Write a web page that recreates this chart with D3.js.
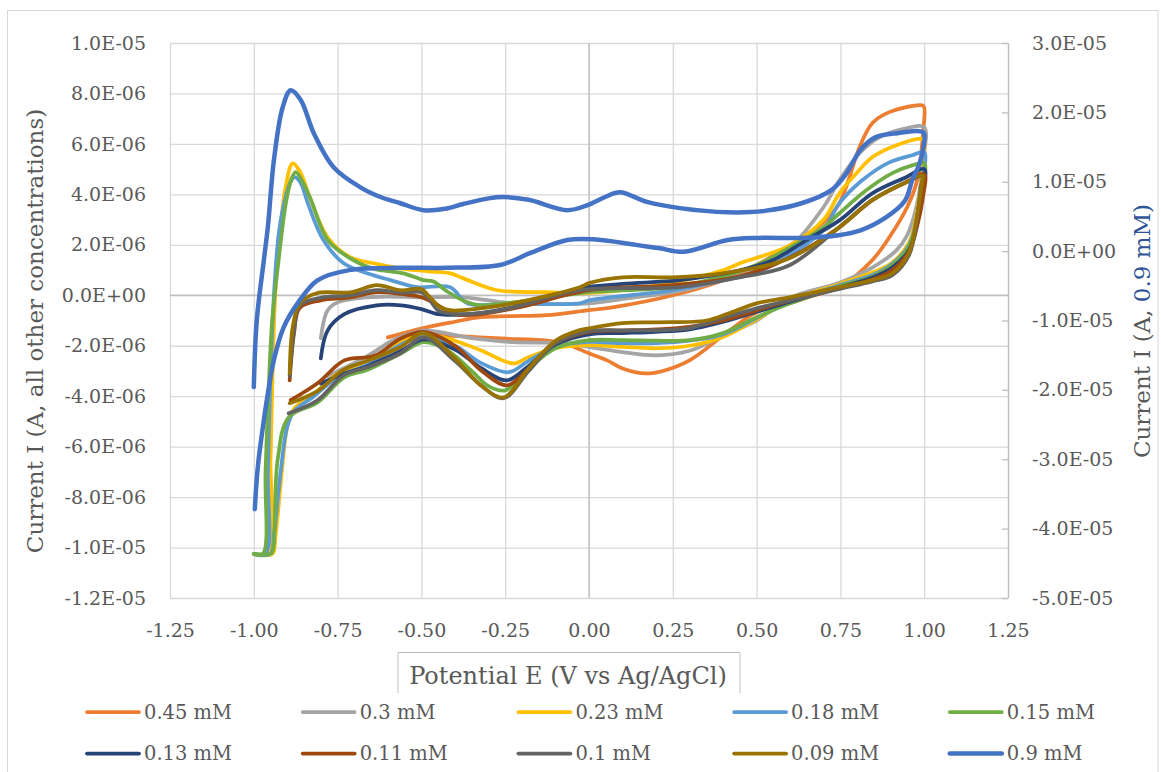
<!DOCTYPE html>
<html>
    <head>
        <style>
            body{
                margin: 0;
                background-color: white;
            }
            text{
                font-family: "DejaVu Serif", serif;
                fill: #595959;
            }
        </style>
        <script src="https://d3js.org/d3.v7.min.js"></script>
    </head>
    <body>
        <script>
            // potential E (V) and current I (uA), forward scan then reverse scan
            const e045 = [-0.60,-0.494,-0.40,-0.324,-0.20,-0.125,0.0,0.07,0.25,0.40,0.50,0.625,0.70,0.747,0.777,0.807,0.845,0.896,0.994,1.0, 0.997,0.979,0.949,0.896,0.845,0.75,0.66,0.598,0.50,0.42,0.30,0.22,0.17,0.10,0.054,0.0,-0.065,-0.125,-0.25,-0.325,-0.42,-0.50,-0.60];
            const i045 = [-1.67,-1.3,-1.05,-0.87,-0.82,-0.79,-0.59,-0.48,0.0,0.6,1.2,2.2,2.9,3.65,4.68,5.87,6.82,7.26,7.53,7.45, 6.5,4.56,3.49,2.3,1.39,0.35,-0.05,-0.32,-0.67,-1.39,-2.58,-3.0,-3.1,-2.9,-2.58,-2.3,-1.95,-1.8,-1.72,-1.67,-1.6,-1.55,-1.9];

            const e03 = [-0.80,-0.78,-0.75,-0.68,-0.60,-0.50,-0.375,-0.226,-0.10,0.0,0.125,0.25,0.40,0.50,0.60,0.70,0.747,0.807,0.866,0.946,1.0, 0.996,0.98,0.95,0.917,0.845,0.747,0.60,0.50,0.40,0.30,0.20,0.10,0.0,-0.065,-0.226,-0.35,-0.494,-0.58,-0.66,-0.78];
            const i03 = [-1.7,-0.6,-0.28,-0.1,-0.05,-0.08,-0.08,-0.32,-0.35,-0.32,-0.1,0.12,0.6,1.0,1.9,3.5,4.56,5.63,6.26,6.62,6.66, 5.3,3.7,2.4,1.78,1.1,0.5,-0.1,-1.0,-1.6,-2.2,-2.38,-2.25,-2.05,-1.9,-1.86,-1.7,-1.4,-1.75,-2.4,-3.2];

            const e023 = [-1.0,-0.957,-0.950,-0.943,-0.935,-0.920,-0.905,-0.884,-0.862,-0.830,-0.78,-0.711,-0.643,-0.5625,-0.48,-0.414,-0.375,-0.274,-0.125,-0.027,0.10,0.25,0.40,0.45,0.60,0.70,0.747,0.798,0.845,0.917,0.994,1.0, 0.995,0.98,0.955,0.905,0.845,0.747,0.60,0.50,0.40,0.30,0.20,0.10,0.0,-0.10,-0.18,-0.226,-0.32,-0.40,-0.494,-0.56,-0.66,-0.75,-0.82,-0.88,-0.90,-0.92,-0.935,-0.945,-1.0];
            const i023 = [-10.25,-10.25,-6.5,-2.5,0.3,2.7,4.3,5.23,4.9,3.77,2.3,1.5,1.27,1.07,0.95,0.87,0.67,0.2,0.12,0.08,0.2,0.5,0.99,1.27,1.98,3.0,4.04,4.84,5.47,5.95,6.2,6.1, 4.9,3.4,2.1,1.3,0.9,0.45,-0.2,-0.95,-1.65,-2.0,-2.1,-2.05,-1.98,-2.1,-2.45,-2.7,-2.2,-1.8,-1.55,-1.8,-2.6,-3.1,-3.9,-4.5,-5.2,-7.5,-9.5,-10.25,-10.25];

            const e018 = [-1.0,-0.965,-0.958,-0.950,-0.940,-0.925,-0.905,-0.890,-0.878,-0.860,-0.839,-0.792,-0.732,-0.643,-0.592,-0.512,-0.414,-0.363,-0.226,-0.027,0.0,0.25,0.40,0.50,0.60,0.70,0.747,0.815,0.896,0.964,1.0, 0.995,0.98,0.955,0.905,0.845,0.747,0.60,0.50,0.40,0.30,0.20,0.10,0.0,-0.10,-0.18,-0.24,-0.32,-0.40,-0.494,-0.56,-0.66,-0.75,-0.82,-0.88,-0.90,-0.92,-0.94,-0.95,-1.0];
            const i018 = [-10.25,-10.25,-7.0,-3.0,0.0,2.5,3.9,4.5,4.68,4.45,3.65,2.18,1.27,0.79,0.6,0.32,0.32,-0.32,-0.32,-0.32,-0.2,0.2,0.6,0.9,1.6,2.6,3.65,4.56,5.27,5.55,5.67, 4.6,3.2,2.0,1.25,0.8,0.4,-0.25,-0.9,-1.55,-1.8,-1.9,-1.9,-1.85,-2.05,-2.6,-3.05,-2.7,-2.0,-1.65,-1.95,-2.75,-3.25,-4.0,-4.6,-5.2,-7.0,-9.5,-10.25,-10.25];

            const e015 = [-1.0,-0.973,-0.965,-0.955,-0.945,-0.926,-0.905,-0.888,-0.875,-0.855,-0.830,-0.78,-0.711,-0.643,-0.554,-0.494,-0.464,-0.423,-0.363,-0.324,-0.226,-0.10,0.0,0.25,0.40,0.50,0.60,0.70,0.747,0.827,0.905,0.964,1.0, 0.995,0.98,0.955,0.905,0.845,0.747,0.60,0.50,0.40,0.30,0.20,0.10,0.0,-0.10,-0.18,-0.25,-0.30,-0.35,-0.42,-0.494,-0.56,-0.66,-0.73,-0.81,-0.896,-0.929,-0.943,-0.95,-1.0];
            const i015 = [-10.25,-10.25,-7.0,-3.5,-1.0,1.39,3.6,4.6,4.88,4.5,3.8,2.2,1.45,1.05,0.87,0.6,0.55,0.15,-0.28,-0.4,-0.28,-0.05,0.12,0.32,0.75,1.2,1.9,2.7,3.25,4.16,4.84,5.15,5.23, 4.2,3.0,1.95,1.2,0.75,0.35,-0.32,-0.87,-1.5,-1.78,-1.8,-1.78,-1.78,-2.1,-2.9,-3.77,-3.6,-3.0,-2.2,-1.86,-2.3,-2.95,-3.25,-4.25,-4.84,-6.54,-10.1,-10.25,-10.25];

            const e013 = [-0.80,-0.78,-0.73,-0.633,-0.56,-0.50,-0.45,-0.40,-0.324,-0.176,-0.027,0.10,0.271,0.45,0.55,0.65,0.747,0.845,0.946,1.0, 0.995,0.98,0.955,0.905,0.845,0.747,0.60,0.50,0.40,0.30,0.20,0.10,0.0,-0.10,-0.18,-0.245,-0.32,-0.40,-0.494,-0.56,-0.66,-0.73,-0.80];
            const i013 = [-2.5,-1.4,-0.75,-0.4,-0.4,-0.55,-0.75,-0.78,-0.71,-0.32,0.28,0.45,0.6,0.99,1.4,2.2,2.97,4.04,4.68,5.0, 4.0,2.9,1.8,1.1,0.7,0.3,-0.25,-0.65,-1.05,-1.35,-1.45,-1.5,-1.55,-1.95,-2.8,-3.37,-2.9,-2.15,-1.75,-2.2,-2.8,-3.1,-3.5];

            const e011 = [-0.893,-0.88,-0.863,-0.80,-0.711,-0.633,-0.56,-0.50,-0.45,-0.40,-0.324,-0.20,0.0,0.25,0.45,0.60,0.747,0.845,0.946,1.0, 0.995,0.98,0.955,0.905,0.845,0.747,0.60,0.50,0.40,0.30,0.20,0.10,0.0,-0.10,-0.18,-0.245,-0.32,-0.40,-0.494,-0.56,-0.64,-0.73,-0.81,-0.89];
            const i011 = [-3.37,-1.5,-0.5,-0.2,-0.08,0.12,0.05,-0.08,-0.4,-0.75,-0.75,-0.45,0.2,0.4,0.75,1.5,2.7,3.77,4.48,4.8, 3.8,2.8,1.75,1.0,0.62,0.28,-0.2,-0.6,-1.0,-1.25,-1.35,-1.4,-1.45,-1.9,-2.9,-3.57,-3.0,-2.0,-1.45,-1.7,-2.4,-2.58,-3.49,-4.16];

            const e01 = [-0.893,-0.88,-0.863,-0.80,-0.711,-0.633,-0.56,-0.50,-0.48,-0.45,-0.423,-0.324,-0.226,-0.027,0.271,0.45,0.598,0.747,0.845,0.946,0.994, 0.99,0.979,0.955,0.905,0.845,0.747,0.60,0.50,0.40,0.30,0.20,0.10,0.0,-0.10,-0.18,-0.255,-0.32,-0.40,-0.494,-0.5625,-0.661,-0.732,-0.81,-0.896];
            const i01 = [-3.2,-1.4,-0.4,-0.1,0.0,0.2,0.1,0.12,-0.1,-0.6,-0.71,-0.71,-0.48,0.2,0.32,0.71,1.19,2.7,3.77,4.48,4.7, 4.3,3.1,1.6,0.8,0.55,0.25,-0.2,-0.52,-0.9,-1.3,-1.39,-1.39,-1.42,-1.9,-3.0,-4.08,-3.6,-2.6,-1.67,-2.3,-2.85,-3.17,-4.16,-4.68];

            const e009 = [-0.893,-0.884,-0.863,-0.812,-0.711,-0.633,-0.5625,-0.50,-0.48,-0.443,-0.41,-0.324,-0.226,-0.027,0.0,0.10,0.25,0.40,0.598,0.747,0.845,0.946,0.996, 0.994,0.979,0.955,0.905,0.845,0.747,0.598,0.50,0.42,0.351,0.202,0.10,0.0,-0.03,-0.10,-0.18,-0.255,-0.32,-0.40,-0.494,-0.5625,-0.661,-0.732,-0.81,-0.893];
            const i009 = [-3.1,-1.27,-0.32,0.08,0.12,0.4,0.2,0.25,0.0,-0.48,-0.6,-0.52,-0.32,0.32,0.48,0.71,0.71,0.87,1.47,2.7,3.77,4.48,4.75, 4.5,3.2,1.7,0.87,0.6,0.32,-0.08,-0.32,-0.7,-1.0,-1.07,-1.1,-1.31,-1.39,-1.8,-2.9,-4.05,-3.6,-2.5,-1.5,-2.05,-2.6,-2.95,-3.8,-4.28];

            // 0.9 mM is on the secondary axis
            const e09 = [-1.000,-0.991,-0.970,-0.958,-0.940,-0.914,-0.890,-0.860,-0.821,-0.762,-0.682,-0.622,-0.5625,-0.494,-0.43,-0.375,-0.30,-0.256,-0.18,-0.065,-0.006,0.048,0.092,0.173,0.271,0.414,0.524,0.634,0.723,0.768,0.810,0.854,0.920,0.997, 0.998,0.985,0.964,0.943,0.887,0.810,0.744,0.634,0.503,0.414,0.283,0.211,0.140,0.012,-0.065,-0.176,-0.265,-0.423,-0.5625,-0.711,-0.810,-0.869,-0.911,-0.940,-0.958,-0.973,-0.988,-0.997];
            const i09 = [-19.6,-9.9,-1.3,3.5,13.1,20.7,23.2,21.8,17.0,12.1,9.2,7.8,6.9,5.9,6.1,6.8,7.6,7.8,7.4,5.9,6.6,7.8,8.5,7.1,6.2,5.6,5.8,6.9,8.8,11.2,14.6,16.4,17.0,17.1, 15.0,12.5,10.2,7.3,4.9,3.0,2.3,1.9,1.9,1.6,-0.1,0.4,0.9,1.7,1.6,-0.3,-2.0,-2.4,-2.4,-2.7,-4.2,-7.5,-11.0,-15.7,-20.5,-25.4,-31.1,-37.2];

            const labels = ["0.45 mM","0.3 mM","0.23 mM","0.18 mM","0.15 mM","0.13 mM","0.11 mM","0.1 mM","0.09 mM","0.9 mM"];
            const colors = ["#ED7D31","#A5A5A5","#FFC000","#5B9BD5","#70AD47","#264478","#9E480E","#636363","#997300","#4472C4"];

            const xTicks = [-1.25,-1.0,-0.75,-0.5,-0.25,0,0.25,0.5,0.75,1.0,1.25];
            const yLeftTicks = [1e-5,8e-6,6e-6,4e-6,2e-6,0,-2e-6,-4e-6,-6e-6,-8e-6,-1e-5,-1.2e-5];
            const yLeftLabels = ["1.0E-05","8.0E-06","6.0E-06","4.0E-06","2.0E-06","0.0E+00","-2.0E-06","-4.0E-06","-6.0E-06","-8.0E-06","-1.0E-05","-1.2E-05"];
            const yRightTicks = [3e-5,2e-5,1e-5,0,-1e-5,-2e-5,-3e-5,-4e-5,-5e-5];
            const yRightLabels = ["3.0E-05","2.0E-05","1.0E-05","0.0E+00","-1.0E-05","-2.0E-05","-3.0E-05","-4.0E-05","-5.0E-05"];

            const w = 1161;
            const h = 772;
            const pLeft = 170, pRight = 1008, pTop = 43, pBottom = 598;

            const svg = d3.select("body")
                        .append("svg")
                        .attr("width", w)
                        .attr("height", h);

            // chart border
            svg.append("rect")
                .attr("x", 7.5).attr("y", 10.5)
                .attr("width", 1150.5).attr("height", 800)
                .attr("fill", "none")
                .attr("stroke", "#D9D9D9");

            const x = d3.scaleLinear().domain([-1.25, 1.25]).range([pLeft, pRight]);
            const yL = d3.scaleLinear().domain([-1.2e-5, 1e-5]).range([pBottom, pTop]);
            const yR = d3.scaleLinear().domain([-5e-5, 3e-5]).range([pBottom, pTop]);

            // gridlines
            const gridY = svg.append("g")
                .attr("transform", "translate(" + pLeft + ",0)")
                .call(d3.axisLeft(yL).tickValues(yLeftTicks).tickSize(-(pRight - pLeft)).tickFormat(""));
            const gridX = svg.append("g")
                .attr("transform", "translate(0," + pBottom + ")")
                .call(d3.axisBottom(x).tickValues(xTicks).tickSize(-(pBottom - pTop)).tickFormat(""));
            [gridX, gridY].forEach(g => {
                g.select(".domain").remove();
                g.selectAll("line").attr("stroke", "#D9D9D9").attr("stroke-width", 1.3);
            });

            // axis lines through zero
            svg.append("line")
                .attr("x1", pLeft).attr("x2", pRight)
                .attr("y1", yL(0)).attr("y2", yL(0))
                .attr("stroke", "#BFBFBF").attr("stroke-width", 1.3);
            svg.append("line")
                .attr("x1", x(0)).attr("x2", x(0))
                .attr("y1", pTop).attr("y2", pBottom)
                .attr("stroke", "#BFBFBF").attr("stroke-width", 1.3);

            // tick labels
            const axL = svg.append("g")
                .attr("transform", "translate(" + pLeft + ",0)")
                .call(d3.axisLeft(yL).tickValues(yLeftTicks).tickSize(0).tickPadding(24)
                    .tickFormat((d, i) => yLeftLabels[i]));
            axL.select(".domain").remove();

            const axR = svg.append("g")
                .attr("transform", "translate(" + pRight + ",0)")
                .call(d3.axisRight(yR).tickValues(yRightTicks).tickSizeInner(-6).tickSizeOuter(0).tickPadding(24)
                    .tickFormat((d, i) => yRightLabels[i]));
            axR.select(".domain").attr("stroke", "#BFBFBF").attr("stroke-width", 1.3);
            axR.selectAll("line").attr("stroke", "#BFBFBF").attr("stroke-width", 1.3);

            const axX = svg.append("g")
                .attr("transform", "translate(0," + pBottom + ")")
                .call(d3.axisBottom(x).tickValues(xTicks).tickSize(0)
                    .tickFormat(d => d.toFixed(2)));
            axX.select(".domain").remove();
            axX.selectAll("text").attr("y", 39).attr("dy", 0);

            [axL, axR, axX].forEach(g => {
                g.selectAll("text")
                    .style("font-family", '"DejaVu Serif", serif')
                    .style("font-size", "19px")
                    .attr("fill", "#595959");
            });

            // curves
            const series = [
                {e: e045, i: i045}, {e: e03, i: i03}, {e: e023, i: i023}, {e: e018, i: i018},
                {e: e015, i: i015}, {e: e013, i: i013}, {e: e011, i: i011}, {e: e01, i: i01},
                {e: e009, i: i009}, {e: e09, i: i09}
            ];

            series.forEach((s, k) => {
                const yScale = k == 9 ? yR : yL;
                const pts = s.e.map((e, j) => [e, s.i[j] * 1e-6]);
                const line = d3.line()
                    .x(d => x(d[0]))
                    .y(d => yScale(d[1]))
                    .curve(d3.curveCatmullRom.alpha(0.5));
                svg.append("path")
                    .datum(pts)
                    .attr("d", line)
                    .attr("fill", "none")
                    .attr("stroke", colors[k])
                    .attr("stroke-width", k == 9 ? 4.5 : 3.75)
                    .attr("stroke-linecap", "round")
                    .attr("stroke-linejoin", "round");
            });

            // axis titles
            svg.append("text")
                .attr("transform", "translate(43,331) rotate(-90)")
                .attr("text-anchor", "middle")
                .style("font-size", "23px")
                .text("Current I (A, all other concentrations)");

            const rt = svg.append("text")
                .attr("transform", "translate(1150,331) rotate(-90)")
                .attr("text-anchor", "middle")
                .style("font-size", "23px");
            rt.append("tspan").text("Current I (A, ");
            rt.append("tspan").style("fill", "#2F5597").text("0.9 mM)");

            svg.append("path")
                .attr("d", "M398,693V652.5H740V693")
                .attr("fill", "none")
                .attr("stroke", "#BFBFBF");
            svg.append("text")
                .attr("x", 568).attr("y", 684)
                .attr("text-anchor", "middle")
                .style("font-size", "24px")
                .text("Potential E (V vs Ag/AgCl)");

            // legend
            const legend = svg.selectAll(".legend-item")
                .data(labels)
                .enter()
                .append("g")
                .attr("class", "legend-item")
                .attr("transform", (d, i) => "translate(" + (87 + (i % 5) * 215.7) + "," + (712 + Math.floor(i / 5) * 41.5) + ")");
            legend.append("line")
                .attr("x1", 0).attr("x2", 52)
                .attr("stroke", (d, i) => colors[i])
                .attr("stroke-width", (d, i) => i == 9 ? 4.5 : 3.75)
                .attr("stroke-linecap", "round");
            legend.append("text")
                .attr("x", 57)
                .attr("dy", "0.35em")
                .style("font-size", "19.5px")
                .text(d => d);
        </script>
    </body>
</html>
